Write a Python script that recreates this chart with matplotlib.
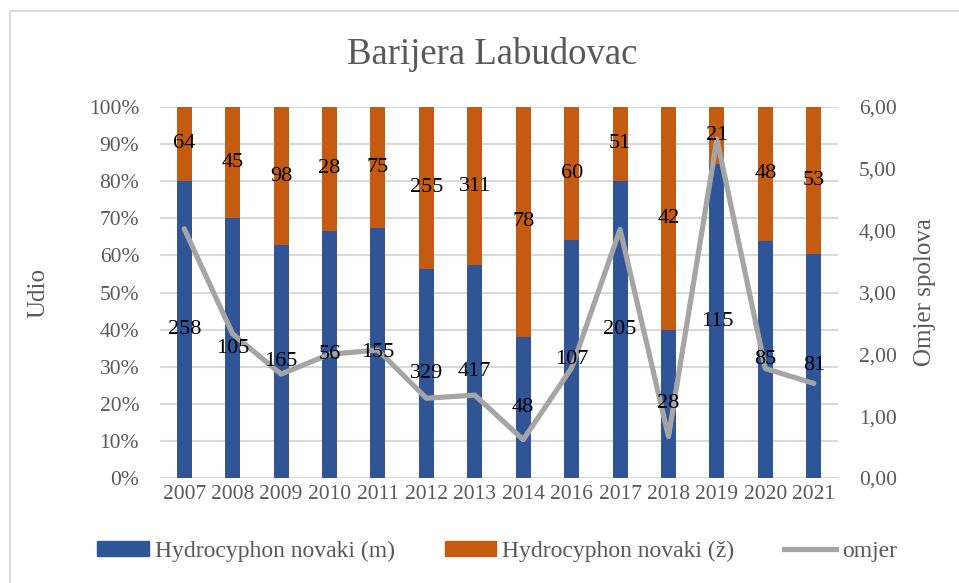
import numpy as np
import matplotlib.pyplot as plt
from matplotlib.patches import Rectangle

plt.rcParams['font.family'] = ['Liberation Serif', 'DejaVu Serif']

# podaci
godine = ["2007", "2008", "2009", "2010", "2011", "2012", "2013", "2014",
          "2016", "2017", "2018", "2019", "2020", "2021"]
muzjaci = [258, 105, 165, 56, 155, 329, 417, 48, 107, 205, 28, 115, 85, 81]
zenke = [64, 45, 98, 28, 75, 255, 311, 78, 60, 51, 42, 21, 48, 53]
omjer = [4.03, 2.33, 1.68, 2.00, 2.07, 1.29, 1.34, 0.62, 1.78, 4.02, 0.67, 5.48, 1.77, 1.53]

plava = "#2F5597"
narancasta = "#C55A11"
siva = "#A5A5A5"
tekst = "#595959"

m = np.array(muzjaci, dtype=float)
z = np.array(zenke, dtype=float)
uk = m + z
udio_m = m / uk
udio_z = z / uk
x = np.arange(len(godine))

fig = plt.figure(figsize=(9.59, 5.83), dpi=100)
# okvir grafikona
fig.patches.append(Rectangle((10/959, -0.05), 1.2, 1.05 - 11/583, transform=fig.transFigure,
                             fill=False, edgecolor="#D9D9D9", linewidth=1.5))
ax = fig.add_axes([160/959, 105/583, 678/959, 371/583])
ax2 = ax.twinx()

w = 0.31
ax.bar(x, udio_m, w, color=plava, zorder=2)
ax.bar(x, udio_z, w, bottom=udio_m, color=narancasta, zorder=2)

ax.set_ylim(0, 1)
ax.set_xlim(-0.5, len(godine) - 0.5)
ax.set_yticks(np.arange(0, 1.01, 0.1))
ax.set_yticklabels([f"{int(round(v*100))}%" for v in np.arange(0, 1.01, 0.1)])
ax.set_xticks(x)
ax.set_xticklabels(godine)
ax.grid(axis="y", color="#D9D9D9", linewidth=1.5, zorder=0)
ax.set_axisbelow(True)
for s in ax.spines.values():
    s.set_visible(False)
for s in ax2.spines.values():
    s.set_visible(False)
ax.tick_params(axis="y", length=0, labelsize=15.5, colors=tekst, pad=15)
ax.tick_params(axis="x", length=0, labelsize=15.5, colors=tekst, pad=5)
ax.set_ylabel("Udio", fontsize=18, color=tekst, labelpad=28)

ax2.plot(x, omjer, color=siva, linewidth=3.75, zorder=3, solid_capstyle="round",
         solid_joinstyle="round")
ax2.set_ylim(0, 6)
ax2.set_yticks(np.arange(0, 6.01, 1))
ax2.set_yticklabels([f"{v:.2f}".replace(".", ",") for v in np.arange(0, 6.01, 1)])
ax2.tick_params(length=0, labelsize=15.5, colors=tekst, pad=15)
ax2.set_ylabel("Omjer spolova", fontsize=18, color=tekst, labelpad=12)

# oznake podataka
for i in range(len(godine)):
    ax2.text(x[i], udio_m[i] / 2, str(muzjaci[i]), transform=ax.transData,
             ha="center", va="center", fontsize=16, color="black", zorder=5)
    ax2.text(x[i], udio_m[i] + udio_z[i] / 2, str(zenke[i]), transform=ax.transData,
             ha="center", va="center", fontsize=16, color="black", zorder=5)

fig.text(492/959, 1 - 55/583, "Barijera Labudovac", ha="center", va="center",
         fontsize=26.5, color=tekst)

hand = [Rectangle((0, 0), 1, 1, color=plava),
        Rectangle((0, 0), 1, 1, color=narancasta),
        plt.Line2D([0], [0], color=siva, linewidth=3.75)]
fig.legend(hand, ["Hydrocyphon novaki (m)", "Hydrocyphon novaki (ž)", "omjer"],
           loc="center", bbox_to_anchor=(497/959, 1 - 551/583), ncol=3, frameon=False,
           fontsize=17, handlelength=2.2, handleheight=0.6, columnspacing=2.1,
           handletextpad=0.25, labelcolor=tekst)

plt.savefig("out.png", dpi=100)
